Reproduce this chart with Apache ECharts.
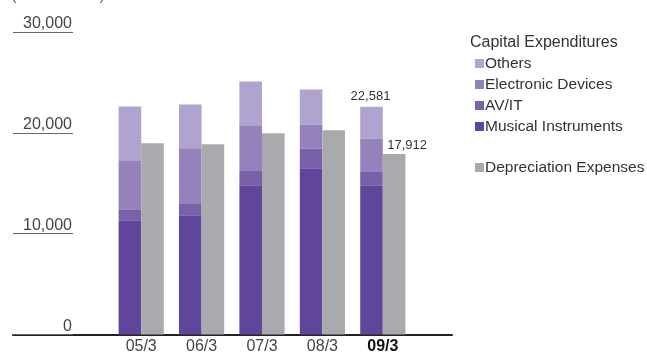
<!DOCTYPE html>
<html>
<head>
<meta charset="utf-8">
<script src="https://cdn.jsdelivr.net/npm/echarts@6/dist/echarts.min.js"></script>
<style>
html,body{margin:0;padding:0;background:#fff;}
#c{width:647px;height:352px;}
</style>
</head>
<body>
<div id="c"></div>
<script>
const categories = ['05/3', '06/3', '07/3', '08/3', '09/3'];
const musicalInstruments = [11340, 11830, 14800, 16480, 14800];
const avIt = [1080, 1190, 1490, 1980, 1390];
const electronicDevices = [4860, 5440, 4450, 2380, 3260];
const others = [5340, 4360, 4360, 3460, 3131];
const depreciation = [18960, 18860, 19950, 20250, 17912];
const yTicks = [0, 10000, 20000, 30000];
const capitalTotalLabel = '22,581';
const depreciationLabel = '17,912';

const FONT = '"Liberation Sans", Arial, sans-serif';
const colors = {
  mi: '#60469b',
  av: '#7861a9',
  ed: '#9582bd',
  ot: '#b0a3cf',
  dep: '#a9aaad'
};

const chart = echarts.init(document.getElementById('c'), null, {renderer: 'canvas'});
const last = categories.length - 1;

function withLabel(arr, text, extra) {
  return arr.map((v, i) => i === last ? {
    value: v,
    label: Object.assign({show: true, formatter: text, fontFamily: FONT, fontSize: 13, color: '#333'}, extra)
  } : v);
}

const legendText = {fontFamily: FONT, fontSize: 15.5, color: '#333', padding: [0, 0, 0, -4], lineHeight: 17};

const option = {
  animation: false,
  textStyle: {fontFamily: FONT},
  graphic: [{
    type: 'text', left: 12, top: -10,
    style: {text: '(Millions of Yen)', fontFamily: FONT, fontSize: 13, fill: '#444'}
  }],
  title: {
    text: 'Capital Expenditures', left: 465, top: 30,
    textStyle: {fontFamily: FONT, fontSize: 16, fontWeight: 'normal', color: '#333'}
  },
  legend: [{
    orient: 'vertical', left: 470, top: 50, itemWidth: 9, itemHeight: 9, itemGap: 4,
    icon: 'rect',
    data: ['Others', 'Electronic Devices', 'AV/IT', 'Musical Instruments'],
    textStyle: legendText
  }, {
    orient: 'vertical', left: 470, top: 154, itemWidth: 9, itemHeight: 9,
    icon: 'rect',
    data: ['Depreciation Expenses'],
    textStyle: legendText
  }],
  grid: [
    {left: 13, right: 195, top: 32, bottom: 17.5, outerBoundsMode: 'none', containLabel: false},
    {left: 111, right: 234, top: 32, bottom: 17.5, outerBoundsMode: 'none', containLabel: false}
  ],
  xAxis: [{
    gridIndex: 0, type: 'value', min: 0, max: 1,
    axisLine: {show: true, lineStyle: {color: '#222', width: 2}},
    axisTick: {show: false}, axisLabel: {show: false}, splitLine: {show: false}
  }, {
    gridIndex: 1, type: 'category', data: categories,
    axisLine: {show: false}, axisTick: {show: false},
    axisLabel: {
      interval: 0, margin: 4, lineHeight: 16, fontFamily: FONT, fontSize: 16, color: '#444',
      formatter: (v, i) => i === last ? '{b|' + v + '}' : v,
      rich: {b: {fontFamily: FONT, fontSize: 16, lineHeight: 16, fontWeight: 'bold', color: '#111'}}
    }
  }],
  yAxis: [{
    gridIndex: 0, type: 'value', min: yTicks[0], max: yTicks[yTicks.length - 1], interval: 10000,
    axisLine: {show: false},
    axisTick: {show: true, inside: true, length: 60, lineStyle: {color: '#666', width: 1}},
    splitLine: {show: false},
    axisLabel: {
      inside: true, margin: 59, align: 'right', verticalAlign: 'bottom',
      padding: [0, 0, 0, 0],
      fontFamily: FONT, fontSize: 16, color: '#444',
      formatter: v => v.toLocaleString('en-US')
    }
  }, {
    gridIndex: 1, type: 'value', min: yTicks[0], max: yTicks[yTicks.length - 1], interval: 10000,
    show: false
  }],
  series: [
    {name: 'Musical Instruments', type: 'bar', stack: 'cap', xAxisIndex: 1, yAxisIndex: 1,
     barWidth: 22.6, barGap: '0%', itemStyle: {color: colors.mi}, data: musicalInstruments},
    {name: 'AV/IT', type: 'bar', stack: 'cap', xAxisIndex: 1, yAxisIndex: 1,
     barWidth: 22.6, barGap: '0%', itemStyle: {color: colors.av}, data: avIt},
    {name: 'Electronic Devices', type: 'bar', stack: 'cap', xAxisIndex: 1, yAxisIndex: 1,
     barWidth: 22.6, barGap: '0%', itemStyle: {color: colors.ed}, data: electronicDevices},
    {name: 'Others', type: 'bar', stack: 'cap', xAxisIndex: 1, yAxisIndex: 1,
     barWidth: 22.6, barGap: '0%', itemStyle: {color: colors.ot},
     data: withLabel(others, capitalTotalLabel, {position: 'top', distance: 4, offset: [-1, 0]})},
    {name: 'Depreciation Expenses', type: 'bar', xAxisIndex: 1, yAxisIndex: 1,
     barWidth: 22.6, barGap: '0%', itemStyle: {color: colors.dep},
     data: withLabel(depreciation, depreciationLabel, {position: 'top', distance: 2, offset: [13, 0]})}
  ]
};
chart.setOption(option);
</script>
</body>
</html>
